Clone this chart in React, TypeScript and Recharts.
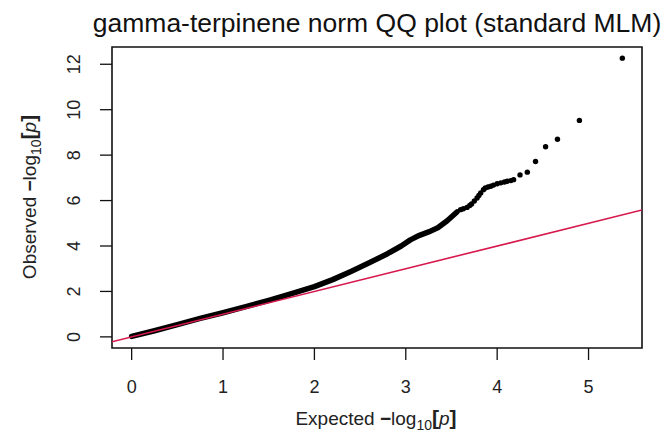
import React from 'react'
import {
  ComposedChart,
  Line,
  Scatter,
  XAxis,
  YAxis,
  ReferenceArea,
} from 'recharts'

const TITLE = 'gamma-terpinene norm QQ plot (standard MLM)'

// axis ticks
const xTicks = [0, 1, 2, 3, 4, 5]
const yTicks = [0, 2, 4, 6, 8, 10, 12]
const xDomain = [-0.215, 5.585]
const yDomain = [-0.49, 12.76]

// the dense part of the QQ curve (reads as a thick band)
const bandExpected = [0.0, 0.25, 0.5, 0.75, 1.0, 1.25, 1.5, 1.75, 2.0, 2.2, 2.4, 2.6, 2.8, 2.95, 3.05, 3.15, 3.25, 3.35, 3.45, 3.56]
const bandObserved = [0.02, 0.27, 0.54, 0.81, 1.06, 1.33, 1.61, 1.9, 2.21, 2.52, 2.88, 3.26, 3.66, 4.0, 4.27, 4.47, 4.62, 4.8, 5.1, 5.5]

// the upper tail, where single points show
const tailExpected = [3.6, 3.63, 3.67, 3.7, 3.72, 3.75, 3.78, 3.8, 3.82, 3.85, 3.87, 3.9, 3.93, 3.96, 4.0, 4.04, 4.08, 4.11, 4.15, 4.18, 4.25, 4.33, 4.42, 4.53, 4.66, 4.9, 5.37]
const tailObserved = [5.6, 5.64, 5.7, 5.78, 5.85, 5.98, 6.11, 6.22, 6.33, 6.48, 6.55, 6.6, 6.63, 6.68, 6.74, 6.78, 6.82, 6.85, 6.88, 6.92, 7.13, 7.25, 7.72, 8.37, 8.7, 9.53, 12.27]

// y = x reference, across the whole x range
const diagonalX = [-0.215, 5.585]

const band = bandExpected.map((x, i) => ({ x, y: bandObserved[i] }))
const tail = tailExpected.map((x, i) => ({ x, y: tailObserved[i] }))
const diagonal = diagonalX.map(x => ({ x, y: x }))

const FONT = '"Liberation Sans", Arial, sans-serif'
const RED = '#d7194e'

const XTick = ({ x, payload }: any) => (
  <text x={x} y={393} textAnchor="middle" fontSize={18} fontFamily={FONT} fill="#222">
    {payload.value}
  </text>
)

const YTick = ({ y, payload }: any) => (
  <text
    x={80}
    y={y}
    transform={`rotate(-90 80 ${y})`}
    textAnchor="middle"
    fontSize={18}
    fontFamily={FONT}
    fill="#222"
  >
    {payload.value}
  </text>
)

const AxisTitle = ({ word, x, y, rotate }: { word: string; x: number; y: number; rotate?: boolean }) => (
  <text
    x={x}
    y={y}
    transform={rotate ? `rotate(-90 ${x} ${y})` : undefined}
    textAnchor="middle"
    fontSize={19}
    fontFamily={FONT}
    fill="#222"
  >
    {word}{'  '}
    <tspan fontWeight="bold">−</tspan>
    <tspan>log</tspan>
    <tspan fontSize={14} dy={5}>10</tspan>
    <tspan dy={-5} fontWeight="bold" fontSize={21}>[</tspan>
    <tspan fontStyle="italic">p</tspan>
    <tspan fontWeight="bold" fontSize={21}>]</tspan>
  </text>
)

const Dot = (props: any) => <circle cx={props.cx} cy={props.cy} r={2.7} fill="#000" />

export default function App() {
  return (
    <div style={{ position: 'absolute', left: 0, top: 0, width: 662, height: 444, background: '#fff' }}>
      <ComposedChart width={662} height={444} margin={{ top: 47, right: 20, bottom: 0, left: 0 }}>
        <XAxis
          dataKey="x"
          type="number"
          domain={xDomain}
          ticks={xTicks}
          allowDataOverflow
          axisLine={false}
          tickSize={12}
          tickLine={{ stroke: '#111', strokeWidth: 1.3 }}
          tick={<XTick />}
          height={96}
          label={{ content: () => <AxisTitle word="Expected" x={376} y={425} /> }}
        />
        <YAxis
          dataKey="y"
          type="number"
          domain={yDomain}
          ticks={yTicks}
          allowDataOverflow
          axisLine={false}
          tickSize={12}
          tickLine={{ stroke: '#111', strokeWidth: 1.3 }}
          tick={<YTick />}
          width={112}
          label={{ content: () => <AxisTitle word="Observed" x={36} y={197} rotate /> }}
        />
        <ReferenceArea
          x1={xDomain[0]}
          x2={xDomain[1]}
          y1={yDomain[0]}
          y2={yDomain[1]}
          fill="none"
          fillOpacity={0}
          stroke="#111"
          strokeWidth={1.6}
          ifOverflow="visible"
        />
        <Line
          data={band}
          dataKey="y"
          stroke="#000"
          strokeWidth={5.5}
          strokeLinecap="round"
          strokeLinejoin="round"
          dot={false}
          activeDot={false}
          isAnimationActive={false}
        />
        <Line
          data={diagonal}
          dataKey="y"
          stroke={RED}
          strokeWidth={1.6}
          dot={false}
          activeDot={false}
          isAnimationActive={false}
        />
        <Scatter data={tail} dataKey="y" shape={<Dot />} isAnimationActive={false} />
      </ComposedChart>
      <svg width={662} height={444} style={{ position: 'absolute', left: 0, top: 0, pointerEvents: 'none' }}>
        <text x={377} y={32} textAnchor="middle" fontSize={26.5} fontFamily={FONT} fill="#111">
          {TITLE}
        </text>
      </svg>
    </div>
  )
}
